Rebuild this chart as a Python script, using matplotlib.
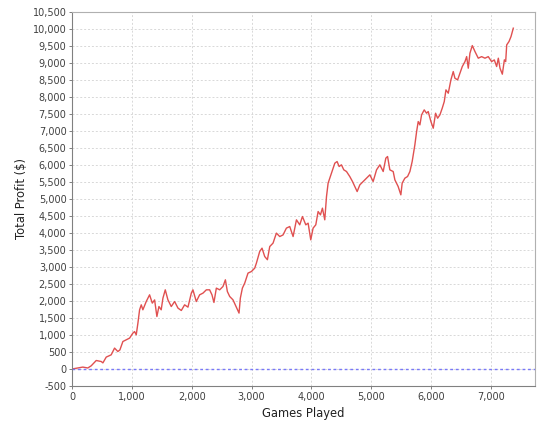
import matplotlib
matplotlib.use("Agg")
import matplotlib.pyplot as plt
from matplotlib.ticker import MultipleLocator, FuncFormatter

# Cumulative profit, (games played, total profit $)
games = [0, 181, 264, 321, 405, 488, 516, 572, 655, 711, 766, 800, 850, 906,
         962, 1017, 1045, 1073, 1101, 1129, 1157, 1184, 1240, 1296, 1341, 1380,
         1418, 1452, 1490, 1519, 1558, 1602, 1658, 1714, 1770, 1826, 1881,
         1937, 1993, 2020, 2076, 2132, 2188, 2244, 2299, 2338, 2371, 2411,
         2467, 2522, 2562, 2595, 2634, 2689, 2745, 2790, 2812, 2846, 2885,
         2940, 2997, 3052, 3080, 3135, 3174, 3219, 3264, 3303, 3358, 3414,
         3470, 3525, 3581, 3637, 3693, 3749, 3804, 3849, 3905, 3944, 3988,
         4027, 4072, 4111, 4150, 4183, 4222, 4251, 4278, 4306, 4351, 4390,
         4428, 4462, 4500, 4540, 4585, 4640, 4685, 4724, 4763, 4808, 4864,
         4920, 4975, 5030, 5087, 5142, 5198, 5242, 5271, 5309, 5365, 5393,
         5448, 5493, 5515, 5560, 5605, 5644, 5682, 5727, 5756, 5783, 5811,
         5839, 5883, 5922, 5950, 5995, 6034, 6073, 6107, 6145, 6184, 6218,
         6246, 6285, 6329, 6368, 6396, 6441, 6480, 6519, 6564, 6592, 6619,
         6647, 6686, 6731, 6786, 6842, 6898, 6953, 7009, 7054, 7093, 7121,
         7149, 7188, 7222, 7244, 7261, 7299, 7333, 7371]
profit = [0, 56, 30, 94, 250, 220, 180, 350, 417, 614, 514, 560, 808, 858,
          908, 1055, 1100, 1005, 1348, 1740, 1886, 1740, 1983, 2180, 1936, 2030,
          1543, 1836, 1740, 2083, 2327, 2033, 1836, 1983, 1790, 1720, 1886,
          1818, 2230, 2327, 1983, 2180, 2230, 2327, 2327, 2180, 1955, 2377,
          2327, 2425, 2621, 2278, 2131, 2033, 1818, 1643, 2083, 2377, 2524,
          2818, 2865, 2964, 3111, 3452, 3552, 3305, 3212, 3599, 3699, 3993,
          3893, 3940, 4140, 4187, 3893, 4384, 4237, 4481, 4237, 4286, 3796,
          4140, 4237, 4628, 4530, 4727, 4384, 5068, 5462, 5610, 5853, 6049,
          6097, 5951, 6000, 5853, 5804, 5656, 5510, 5362, 5215, 5412, 5510,
          5608, 5706, 5510, 5853, 6000, 5804, 6196, 6245, 5853, 5803, 5559,
          5362, 5118, 5462, 5608, 5657, 5803, 6097, 6587, 6978, 7272, 7174,
          7468, 7615, 7517, 7566, 7272, 7076, 7517, 7370, 7468, 7664, 7860,
          8203, 8105, 8497, 8741, 8546, 8497, 8693, 8889, 9034, 9181, 8840,
          9281, 9505, 9329, 9134, 9180, 9134, 9180, 9034, 9083, 8889, 9134,
          8840, 8664, 9085, 9034, 9525, 9623, 9770, 10016]

plt.rcParams['font.family'] = 'DejaVu Sans'

fig = plt.figure(figsize=(5.45, 4.29), dpi=100)
ax = fig.add_axes([0.1321, 0.1002, 0.8496, 0.8725])

ax.plot(games, profit, color='#e05050', linewidth=1.0)
# zero marker line
ax.axhline(0, color='#7878f8', linewidth=1.0, linestyle=(0, (2, 2)))

ax.set_xlim(0, 7734)
ax.set_ylim(-500, 10500)
ax.xaxis.set_major_locator(MultipleLocator(1000))
ax.yaxis.set_major_locator(MultipleLocator(500))
fmt = FuncFormatter(lambda v, p: f"{int(v):,}")
ax.xaxis.set_major_formatter(fmt)
ax.yaxis.set_major_formatter(fmt)

ax.grid(True, color='#d8d8d8', linestyle=(0, (2, 2)), linewidth=0.7)
ax.set_axisbelow(True)
for s in ax.spines.values():
    s.set_color('#b0b0b0')
    s.set_linewidth(0.8)
ax.spines['left'].set_color('#808080')
ax.spines['bottom'].set_color('#808080')
ax.tick_params(axis='both', labelsize=7, length=2, width=0.7, color='#808080',
               labelcolor='#404040', pad=2)

ax.set_xlabel("Games Played", fontsize=8.3, color='#202020', labelpad=4)
ax.set_ylabel("Total Profit ($)", fontsize=8.3, color='#202020', labelpad=3)

fig.savefig("out.png", dpi=100)
